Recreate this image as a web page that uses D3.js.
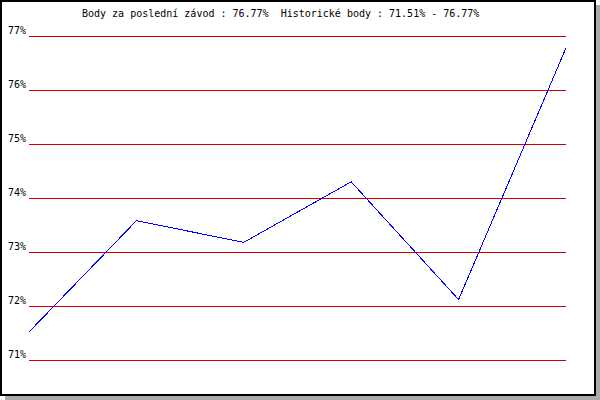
<!DOCTYPE html>
<html>
<head>
<meta charset="utf-8">
<script src="https://cdn.jsdelivr.net/npm/d3@7"></script>
<style>
  body { margin: 0; background: #fff; }
  text { font-family: "DejaVu Sans Mono", monospace; font-size: 10px; fill: #000; }
</style>
</head>
<body>
<div id="chart"></div>
<script>
// body za jednotlive zavody
const races = [1, 2, 3, 4, 5, 6];
const points = [71.51, 73.57, 73.17, 74.29, 72.11, 76.77];
const yTicks = [71, 72, 73, 74, 75, 76, 77];
const title = "Body za poslední závod : 76.77%  Historické body : 71.51% - 76.77%";

const W = 600, H = 400;
const plot = {left: 29, right: 566, top: 35, bottom: 359};

const svg = d3.select("#chart")
    .append("svg")
    .attr("width", W)
    .attr("height", H);

// stin + ramecek
svg.append("rect")
    .attr("x", 5).attr("y", 5)
    .attr("width", W - 5).attr("height", H - 5)
    .style("fill", "#aaaaaa");

svg.append("rect")
    .attr("x", 1).attr("y", 1)
    .attr("width", 594).attr("height", 394)
    .style("fill", "#fff")
    .style("stroke", "#000")
    .style("stroke-width", 2);

const x = d3.scalePoint()
    .domain(races)
    .range([plot.left, plot.right]);

const y = d3.scaleLinear()
    .domain([71, 77])
    .range([plot.bottom + 0.5, plot.top + 0.5]);

const yAxis = svg.append("g")
    .attr("transform", "translate(" + plot.left + ",0)")
    .call(d3.axisLeft(y)
        .tickValues(yTicks)
        .tickSize(-(plot.right - plot.left))
        .tickPadding(3)
        .tickFormat(d => d + "%"));

yAxis.select(".domain").remove();
yAxis.selectAll(".tick line")
    .style("stroke", "#cc0000")
    .style("shape-rendering", "crispEdges");
yAxis.selectAll(".tick text")
    .attr("dy", 0)
    .attr("y", -2.5)
    .style("font-family", "DejaVu Sans Mono, monospace")
    .style("font-size", "10px");

const line = d3.line()
    .x((d, i) => x(races[i]))
    .y(d => y(d));

svg.append("path")
    .datum(points)
    .attr("d", line)
    .style("fill", "none")
    .style("stroke", "#0000ff")
    .style("stroke-width", 1)
    .style("shape-rendering", "crispEdges");

svg.append("text")
    .attr("x", 82)
    .attr("y", 17)
    .style("white-space", "pre")
    .text(title);
</script>
</body>
</html>
